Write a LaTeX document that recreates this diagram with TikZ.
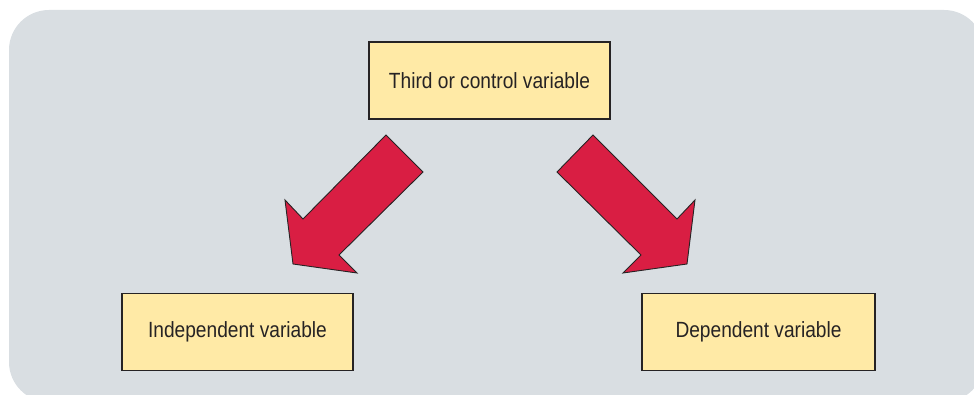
\documentclass[tikz,border=0pt]{standalone}
\usepackage{fontspec}
\setmainfont{Liberation Sans}[FakeStretch=0.87]
\usepackage{xcolor}
\definecolor{panelgray}{HTML}{D9DEE2}
\definecolor{boxyellow}{HTML}{FFEAA6}
\definecolor{arrowred}{HTML}{D91E43}
\definecolor{inkdark}{HTML}{262324}

\begin{document}
\begin{tikzpicture}[x=1pt, y=-1pt,
  varbox/.style={draw=inkdark, line width=1.2pt, fill=boxyellow, text=inkdark,
    minimum height=77pt, font=\fontsize{22}{26}\selectfont},
  blockarrow/.style={draw=inkdark, line width=0.9pt, fill=arrowred, line join=miter}]
\useasboundingbox (0,0) rectangle (974,395);
\fill[panelgray, rounded corners=40pt] (9,10) rectangle (984,402);

\node (third) [varbox, minimum width=241pt] at (489.5,80.5) {Third or control variable};
\node (indep) [varbox, minimum width=231pt] at (237.5,332) {Independent variable};
\node (dep) [varbox, minimum width=233pt] at (758.5,332) {Dependent variable};

% block arrows
\draw[blockarrow] (386,135) -- (423,172) -- (339,255) -- (357,273) -- (293,264)
  -- (285,200) -- (303,219) -- cycle;
\draw[blockarrow] (593,135) -- (557,172) -- (641,255) -- (623,273) -- (687,264)
  -- (695,200) -- (677,219) -- cycle;
\end{tikzpicture}
\end{document}
